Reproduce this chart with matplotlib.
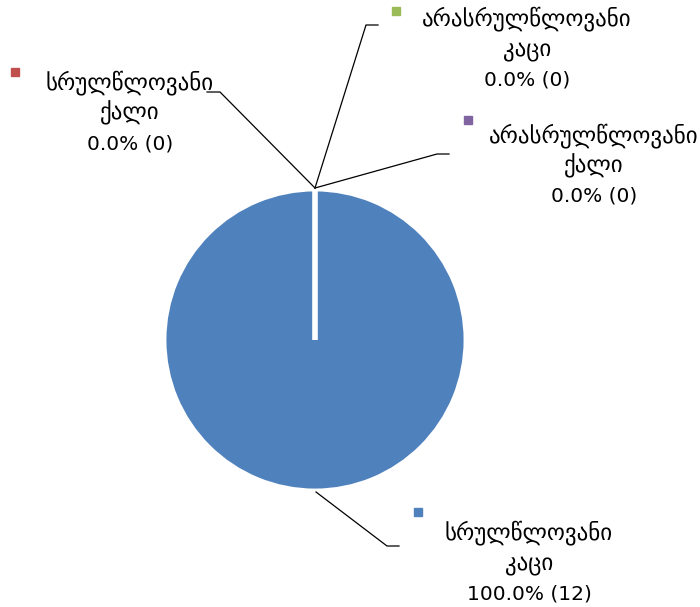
import matplotlib.pyplot as plt

# DATA
labels = [("სრულწლოვანი", "კაცი"), ("სრულწლოვანი", "ქალი"),
          ("არასრულწლოვანი", "კაცი"), ("არასრულწლოვანი", "ქალი")]
counts = [12, 0, 0, 0]
colors = ["#4F81BD", "#C0504D", "#9BBB59", "#8064A2"]

total = sum(counts)

fig = plt.figure(figsize=(7, 6.07), dpi=100)
ax = fig.add_axes([0, 0, 1, 1])

# PIE
ax.pie(counts, colors=colors, center=(315, 340), radius=151,
       startangle=270, counterclock=True,
       wedgeprops=dict(edgecolor="white", linewidth=3.5))
ax.set_xlim(0, 700)
ax.set_ylim(607, 0)
ax.set_aspect("equal")
ax.axis("off")

# LABEL LAYOUT (pixel positions)
# anchor on pie, elbow, line end, marker, text center (middle line)
layout = [
    ((316, 492), (387, 546), (399, 546), (418, 512), (529, 562)),
    ((315, 188), (220, 92), (207, 92), (15, 72), (130, 112)),
    ((315, 188), (366, 25), (378, 25), (396, 11), (527, 48)),
    ((315, 188), (437, 154), (449, 154), (468, 120), (594, 165)),
]

for (l1, l2), v, c, (a, e, end, m, t) in zip(labels, counts, colors, layout):
    pct = 100 * v / total
    ax.plot([a[0], e[0], end[0]], [a[1], e[1], end[1]], color="black", lw=0.9)
    ax.plot(m[0], m[1], marker="s", ms=5.5, color=c, mec=c)
    x, y = t
    ax.text(x, y - 23, l1, ha="center", va="baseline", fontsize=16.5)
    ax.text(x, y + 7, l2, ha="center", va="baseline", fontsize=16.5)
    ax.text(x, y + 37, f"{pct:.1f}% ({v})", ha="center", va="baseline",
            fontsize=14.5)

fig.savefig("out.png", dpi=100)
